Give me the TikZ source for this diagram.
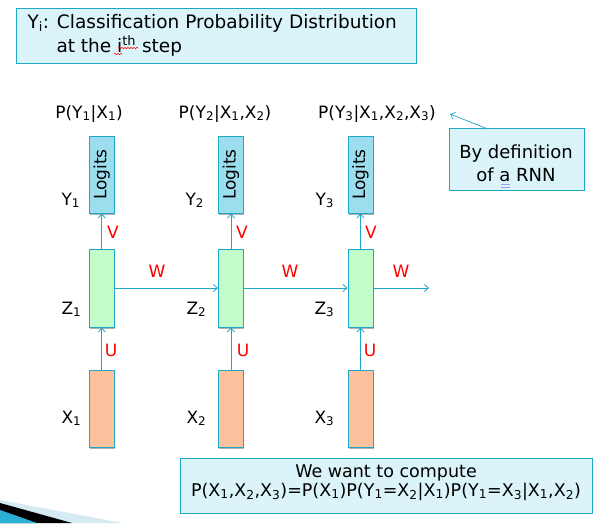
\documentclass[tikz,border=0pt]{standalone}
\usepackage{fontspec}
\setmainfont{DejaVu Sans}
\usetikzlibrary{arrows.meta,shadows,decorations.pathmorphing}

\definecolor{rimblue}{HTML}{1FA7C6}
\definecolor{notefill}{HTML}{DAF4F9}
\definecolor{logitfill}{HTML}{9CDEEE}
\definecolor{hiddenfill}{HTML}{C2FCCA}
\definecolor{inputfill}{HTML}{FCC29E}
\definecolor{labelred}{HTML}{FF0000}
\definecolor{swooshpale}{HTML}{D5EAF3}
\definecolor{swooshblue}{HTML}{2BB0D6}
\definecolor{spellblue}{HTML}{8EA2EE}

\tikzset{
  notebox/.style={draw=rimblue, line width=1pt, fill=notefill, inner sep=0pt, anchor=north west},
  layerbox/.style={draw=rimblue, line width=0.9pt, inner sep=0pt, minimum width=25pt,
    drop shadow={shadow xshift=0.8pt, shadow yshift=-1.8pt, opacity=0.3, fill=black}},
  logitbox/.style={layerbox, fill=logitfill, minimum height=77pt, font=\fontsize{17}{17}\selectfont},
  hiddenbox/.style={layerbox, fill=hiddenfill, minimum height=78pt},
  inputbox/.style={layerbox, fill=inputfill, minimum height=77pt},
  flow/.style={draw=rimblue, line width=0.8pt, -{Straight Barb[length=4pt,width=7pt]}},
  weightlabel/.style={text=labelred, font=\fontsize{17}{17}\selectfont},
  varlabel/.style={anchor=base west, font=\fontsize{17}{17}\selectfont},
  problabel/.style={anchor=base, font=\fontsize{17}{17}\selectfont},
  notetext/.style={anchor=base, font=\fontsize{17.5}{17.5}\selectfont},
  headtext/.style={anchor=base west, font=\fontsize{18.5}{18.5}\selectfont},
  spellmark/.style={draw=red, line width=0.5pt, decorate,
    decoration={snake, amplitude=0.7pt, segment length=3pt}},
}

\begin{document}
\begin{tikzpicture}[x=1pt, y=-1pt]
\useasboundingbox (0,0) rectangle (605,523);

% corner swoosh
\fill[swooshpale] (0,500) -- (123,523) -- (0,523) -- cycle;
\fill[black] (0,503) -- (72,523) -- (0,523) -- cycle;
\fill[swooshblue] (0,510) -- (37,523) -- (0,523) -- cycle;

% heading note
\node[notebox, minimum width=400pt, minimum height=55pt] (headbox) at (16,8) {};
\node[headtext] (headA) at (24,28)
  {Y\textsubscript{i}: Classification Probability Distribution};
\node[headtext] (headB) at (53,52)
  {at the i\textsuperscript{th} step};
\draw[spellmark] (118,48) -- (138,48);
\draw[spellmark] (114,54) -- (122,54);

% output distributions
\node[problabel] (p1) at (89,118) {P(Y\textsubscript{1}|X\textsubscript{1})};
\node[problabel] (p2) at (225,118) {P(Y\textsubscript{2}|X\textsubscript{1},X\textsubscript{2})};
\node[problabel] (p3) at (377,118) {P(Y\textsubscript{3}|X\textsubscript{1},X\textsubscript{2},X\textsubscript{3})};

% logits layer
\node[logitbox] (l1) at (101.8,174.5) {\rotatebox{90}{Logits}};
\node[logitbox] (l2) at (231,174.5) {\rotatebox{90}{Logits}};
\node[logitbox] (l3) at (360.5,174.5) {\rotatebox{90}{Logits}};

% hidden layer
\node[hiddenbox] (h1) at (101.8,288) {};
\node[hiddenbox] (h2) at (231,288) {};
\node[hiddenbox] (h3) at (360.5,288) {};

% input layer
\node[inputbox] (x1) at (101.8,408.5) {};
\node[inputbox] (x2) at (231,408.5) {};
\node[inputbox] (x3) at (360.5,408.5) {};

% side labels
\node[varlabel] (ly1) at (58,205) {Y\textsubscript{1}};
\node[varlabel] (ly2) at (182,205) {Y\textsubscript{2}};
\node[varlabel] (ly3) at (312,205) {Y\textsubscript{3}};
\node[varlabel] (lz1) at (58,314) {Z\textsubscript{1}};
\node[varlabel] (lz2) at (183,314) {Z\textsubscript{2}};
\node[varlabel] (lz3) at (311,314) {Z\textsubscript{3}};
\node[varlabel] (lx1) at (58,423) {X\textsubscript{1}};
\node[varlabel] (lx2) at (183,423) {X\textsubscript{2}};
\node[varlabel] (lx3) at (311,423) {X\textsubscript{3}};

% connections
\coordinate (wout) at (429,288);
\draw[flow] (x1.north) -- (h1.south);
\draw[flow] (x2.north) -- (h2.south);
\draw[flow] (x3.north) -- (h3.south);
\draw[flow] (h1.north) -- (l1.south);
\draw[flow] (h2.north) -- (l2.south);
\draw[flow] (h3.north) -- (l3.south);
\draw[flow] (h1.east) -- (h2.west);
\draw[flow] (h2.east) -- (h3.west);
\draw[flow] (h3.east) -- (wout);

% weight labels
\node[weightlabel] (v1) at (113,232) {V};
\node[weightlabel] (v2) at (242,232) {V};
\node[weightlabel] (v3) at (371,232) {V};
\node[weightlabel] (u1) at (111,350) {U};
\node[weightlabel] (u2) at (243,350) {U};
\node[weightlabel] (u3) at (370,350) {U};
\node[weightlabel] (w1) at (157,271) {W};
\node[weightlabel] (w2) at (290,271) {W};
\node[weightlabel] (w3) at (401,271) {W};

% definition note
\node[notebox, minimum width=135pt, minimum height=62pt] (defnote) at (449,128) {};
\node[notetext, font=\fontsize{18}{18}\selectfont] (defA) at (516,158) {By definition};
\node[notetext, font=\fontsize{18}{18}\selectfont] (defB) at (516,181) {of a RNN};
\draw[spellblue, line width=0.6pt] (501,184.5) -- (510,184.5) (501,187) -- (510,187);
\coordinate (notetail) at (488,129);
\coordinate (notetip) at (450,114);
\draw[flow, line width=0.7pt] (notetail) -- (notetip);

% goal note
\node[notebox, minimum width=412pt, minimum height=55pt] (goalbox) at (180,458) {};
\node[notetext] (goalA) at (386,477) {We want to compute};
\node[notetext] (goalB) at (386,496)
  {P(X\textsubscript{1},X\textsubscript{2},X\textsubscript{3})=P(X\textsubscript{1})P(Y\textsubscript{1}=X\textsubscript{2}|X\textsubscript{1})P(Y\textsubscript{1}=X\textsubscript{3}|X\textsubscript{1},X\textsubscript{2})};
\end{tikzpicture}
\end{document}
